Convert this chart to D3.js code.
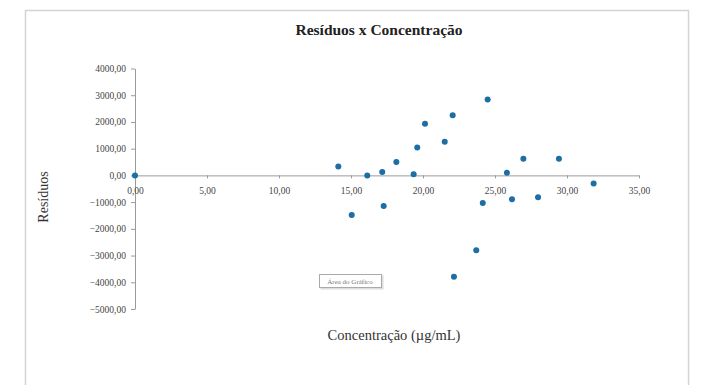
<!DOCTYPE html>
<html>
<head>
<meta charset="utf-8">
<script src="https://cdn.jsdelivr.net/npm/d3@7"></script>
<style>
  body { margin: 0; background: #fff; }
  svg text { font-family: "Liberation Serif", "Times New Roman", serif; }
</style>
</head>
<body>
<div id="chart"></div>
<script>
// concentração (µg/mL) x resíduo
var concentracao = [0.00, 14.12, 15.05, 16.13, 17.17, 17.27, 18.15, 19.35, 19.60, 20.14, 21.51,
    22.06, 22.15, 23.70, 24.15, 24.49, 25.83, 26.18, 26.97, 27.99, 29.44, 31.85];
var residuo = [0, 330, -1480, 0, 130, -1150, 505, 45, 1040, 1930, 1255,
    2255, -3790, -2800, -1030, 2840, 95, -890, 620, -815, 620, -307];
var xTicks = [0, 5, 10, 15, 20, 25, 30, 35];
var yTicks = [4000, 3000, 2000, 1000, 0, -1000, -2000, -3000, -4000, -5000];

var width = 701, height = 385;
var svg = d3.select("#chart").append("svg")
    .attr("width", width).attr("height", height);

// moldura do gráfico
svg.append("rect")
    .attr("x", 25.5).attr("y", 10.5)
    .attr("width", 663).attr("height", 420)
    .attr("fill", "none").attr("stroke", "#d4d4d4").attr("stroke-width", 1.5);

var x = d3.scaleLinear().domain([0, 35]).range([135, 639]);
var y = d3.scaleLinear().domain([-5000, 4000]).range([309, 68.5]);
var fmt = function(d) { return d3.format(".2f")(d).replace(".", ","); };

svg.append("text")
    .attr("x", 379).attr("y", 35)
    .attr("text-anchor", "middle")
    .attr("font-size", 15.5).attr("font-weight", "bold")
    .attr("fill", "#222")
    .text("Resíduos x Concentração");

// eixo y
var yAxis = svg.append("g")
    .attr("transform", "translate(" + x(0) + ",0)")
    .call(d3.axisLeft(y).tickValues(yTicks).tickFormat(fmt).tickSizeInner(4).tickSizeOuter(0).tickPadding(5))
    .attr("font-family", "'Liberation Serif', serif");
yAxis.select(".domain").attr("stroke", "#9a9a9a");
yAxis.selectAll(".tick line").attr("stroke", "#9a9a9a");
yAxis.selectAll("text").attr("font-size", 9.5).attr("fill", "#444");

// eixo x (cruza em y = 0)
var xAxis = svg.append("g")
    .attr("transform", "translate(0," + y(0) + ")")
    .call(d3.axisBottom(x).tickValues(xTicks).tickFormat(fmt).tickSizeInner(3).tickSizeOuter(0).tickPadding(9))
    .attr("font-family", "'Liberation Serif', serif");
xAxis.select(".domain").attr("stroke", "#9a9a9a");
xAxis.selectAll(".tick line").attr("stroke", "#9a9a9a");
xAxis.selectAll("text").attr("font-size", 9.5).attr("fill", "#444");

svg.append("text")
    .attr("transform", "translate(48,197) rotate(-90)")
    .attr("text-anchor", "middle")
    .attr("font-size", 14).attr("fill", "#333")
    .text("Resíduos");

svg.append("text")
    .attr("x", 394).attr("y", 340)
    .attr("text-anchor", "middle")
    .attr("font-size", 14.5).attr("fill", "#333")
    .text("Concentração (µg/mL)");

// pontos
svg.append("g").selectAll("circle")
    .data(concentracao)
    .enter().append("circle")
    .attr("cx", function(d) { return x(d); })
    .attr("cy", function(d, i) { return y(residuo[i]); })
    .attr("r", 3)
    .attr("fill", "#1c6ea4");

// dica "Área do Gráfico"
var tip = svg.append("g").attr("transform", "translate(319,274)");
tip.append("rect").attr("x", 1.5).attr("y", 1.5).attr("width", 63).attr("height", 14)
    .attr("fill", "#ddd");
tip.append("rect").attr("x", 0.5).attr("y", 0.5).attr("width", 62).attr("height", 13)
    .attr("fill", "#fff").attr("stroke", "#aaa");
tip.append("text").attr("x", 31).attr("y", 9.5)
    .attr("text-anchor", "middle").attr("font-size", 7).attr("fill", "#777")
    .text("Área do Gráfico");
</script>
</body>
</html>
